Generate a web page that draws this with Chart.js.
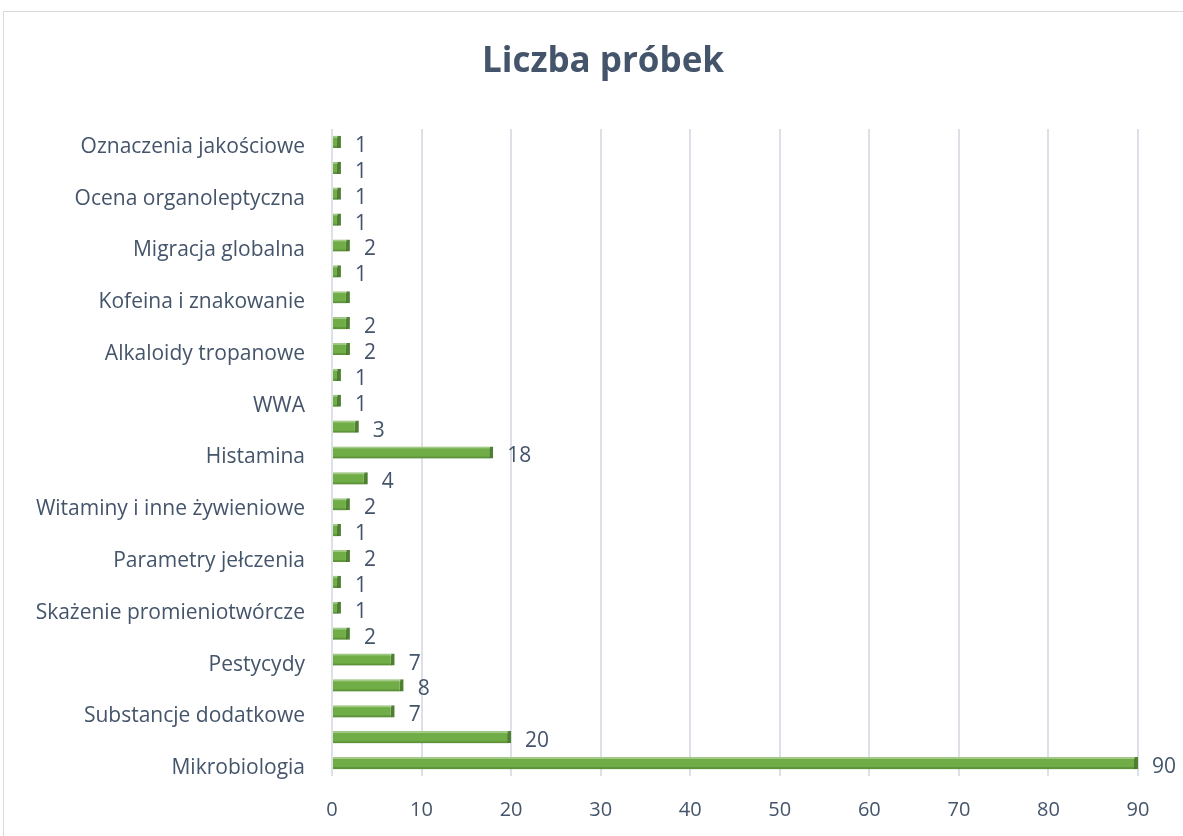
<!DOCTYPE html>
<html>
<head>
<meta charset="utf-8">
<script src="https://cdn.jsdelivr.net/npm/chart.js"></script>
<style>
    body { margin: 0; background: #fff; }
    #frame {
        position: absolute; left: 3px; top: 11px; width: 1200px; height: 840px;
        border: 1px solid #d9d9d9; box-sizing: border-box;
    }
    #wrap { position: absolute; left: 0; top: 0; width: 1183px; height: 836px; }
</style>
</head>
<body>
<div id="frame"></div>
<div id="wrap"><canvas id="chart" width="1183" height="836"></canvas></div>
<script>
// categories top to bottom; unnamed rows have no visible tick label
const categories = [
    "Oznaczenia jakościowe", "",
    "Ocena organoleptyczna", "",
    "Migracja globalna", "",
    "Kofeina i znakowanie", "",
    "Alkaloidy tropanowe", "",
    "WWA", "",
    "Histamina", "",
    "Witaminy i inne żywieniowe", "",
    "Parametry jełczenia", "",
    "Skażenie promieniotwórcze", "",
    "Pestycydy", "",
    "Substancje dodatkowe", "",
    "Mikrobiologia"
];
const sampleCounts = [1, 1, 1, 1, 2, 1, 2, 2, 2, 1, 1, 3, 18, 4, 2, 1, 2, 1, 1, 2, 7, 8, 7, 20, 90];
// rows whose value label is not shown in the original
const hiddenValueLabels = [6];
const xTicks = [0, 10, 20, 30, 40, 50, 60, 70, 80, 90];
const chartTitle = "Liczba próbek";

const textColor = "#44546a";
const fontFamily = "'Open Sans', 'Liberation Sans', sans-serif";

// title is drawn by hand: it sits off-centre in the original
const titlePlugin = {
    id: "titlePlugin",
    afterDraw(chart) {
        const ctx = chart.ctx;
        ctx.save();
        ctx.font = "bold 35px " + fontFamily;
        ctx.fillStyle = textColor;
        ctx.textAlign = "center";
        ctx.textBaseline = "middle";
        ctx.fillText(chartTitle, 603, 62);
        ctx.restore();
    }
};

// value labels at the end of each bar, plus light/dark edges for the 3D look
const valueLabels = {
    id: "valueLabels",
    afterDatasetsDraw(chart) {
        const ctx = chart.ctx;
        const meta = chart.getDatasetMeta(0);
        ctx.save();
        meta.data.forEach((bar) => {
            const top = bar.y - bar.height / 2;
            ctx.fillStyle = "rgba(255,255,255,0.35)";
            ctx.fillRect(bar.base, top, bar.x - bar.base - 3, 2);
            ctx.fillStyle = "rgba(40,70,20,0.25)";
            ctx.fillRect(bar.base, top + bar.height - 2, bar.x - bar.base - 3, 2);
        });
        ctx.font = "21px " + fontFamily;
        ctx.fillStyle = textColor;
        ctx.textAlign = "left";
        ctx.textBaseline = "middle";
        meta.data.forEach((bar, i) => {
            if (hiddenValueLabels.includes(i)) return;
            ctx.fillText(String(sampleCounts[i]), bar.x + 14, bar.y + 4);
        });
        ctx.restore();
    }
};

new Chart(document.getElementById("chart"), {
    type: "bar",
    data: {
        labels: categories,
        datasets: [{
            data: sampleCounts,
            backgroundColor: "#70ad47",
            borderColor: "#4f7f31",
            borderWidth: { top: 0, right: 4, bottom: 0, left: 0 },
            borderSkipped: false,
            barPercentage: 0.47,
            categoryPercentage: 1
        }]
    },
    options: {
        indexAxis: "y",
        responsive: false,
        animation: false,
        layout: { padding: { top: 129, right: 45, bottom: 0, left: 0 } },
        plugins: {
            legend: { display: false },
            tooltip: { enabled: false },
            title: { display: false }
        },
        scales: {
            x: {
                min: 0,
                max: 90,
                afterBuildTicks: (scale) => { scale.ticks = xTicks.map(v => ({ value: v })); },
                afterFit: (scale) => { scale.height = 60; },
                grid: { color: "#dde0e7", lineWidth: 2, drawTicks: false },
                border: { display: false },
                ticks: { color: textColor, font: { family: fontFamily, size: 20 }, padding: 22 }
            },
            y: {
                afterFit: (scale) => { scale.width = 332; },
                grid: { display: false, drawTicks: false },
                border: { display: false },
                ticks: {
                    color: textColor,
                    font: { family: fontFamily, size: 21 },
                    padding: 27,
                    labelOffset: 5,
                    autoSkip: false
                }
            }
        }
    },
    plugins: [valueLabels, titlePlugin]
});
</script>
</body>
</html>
